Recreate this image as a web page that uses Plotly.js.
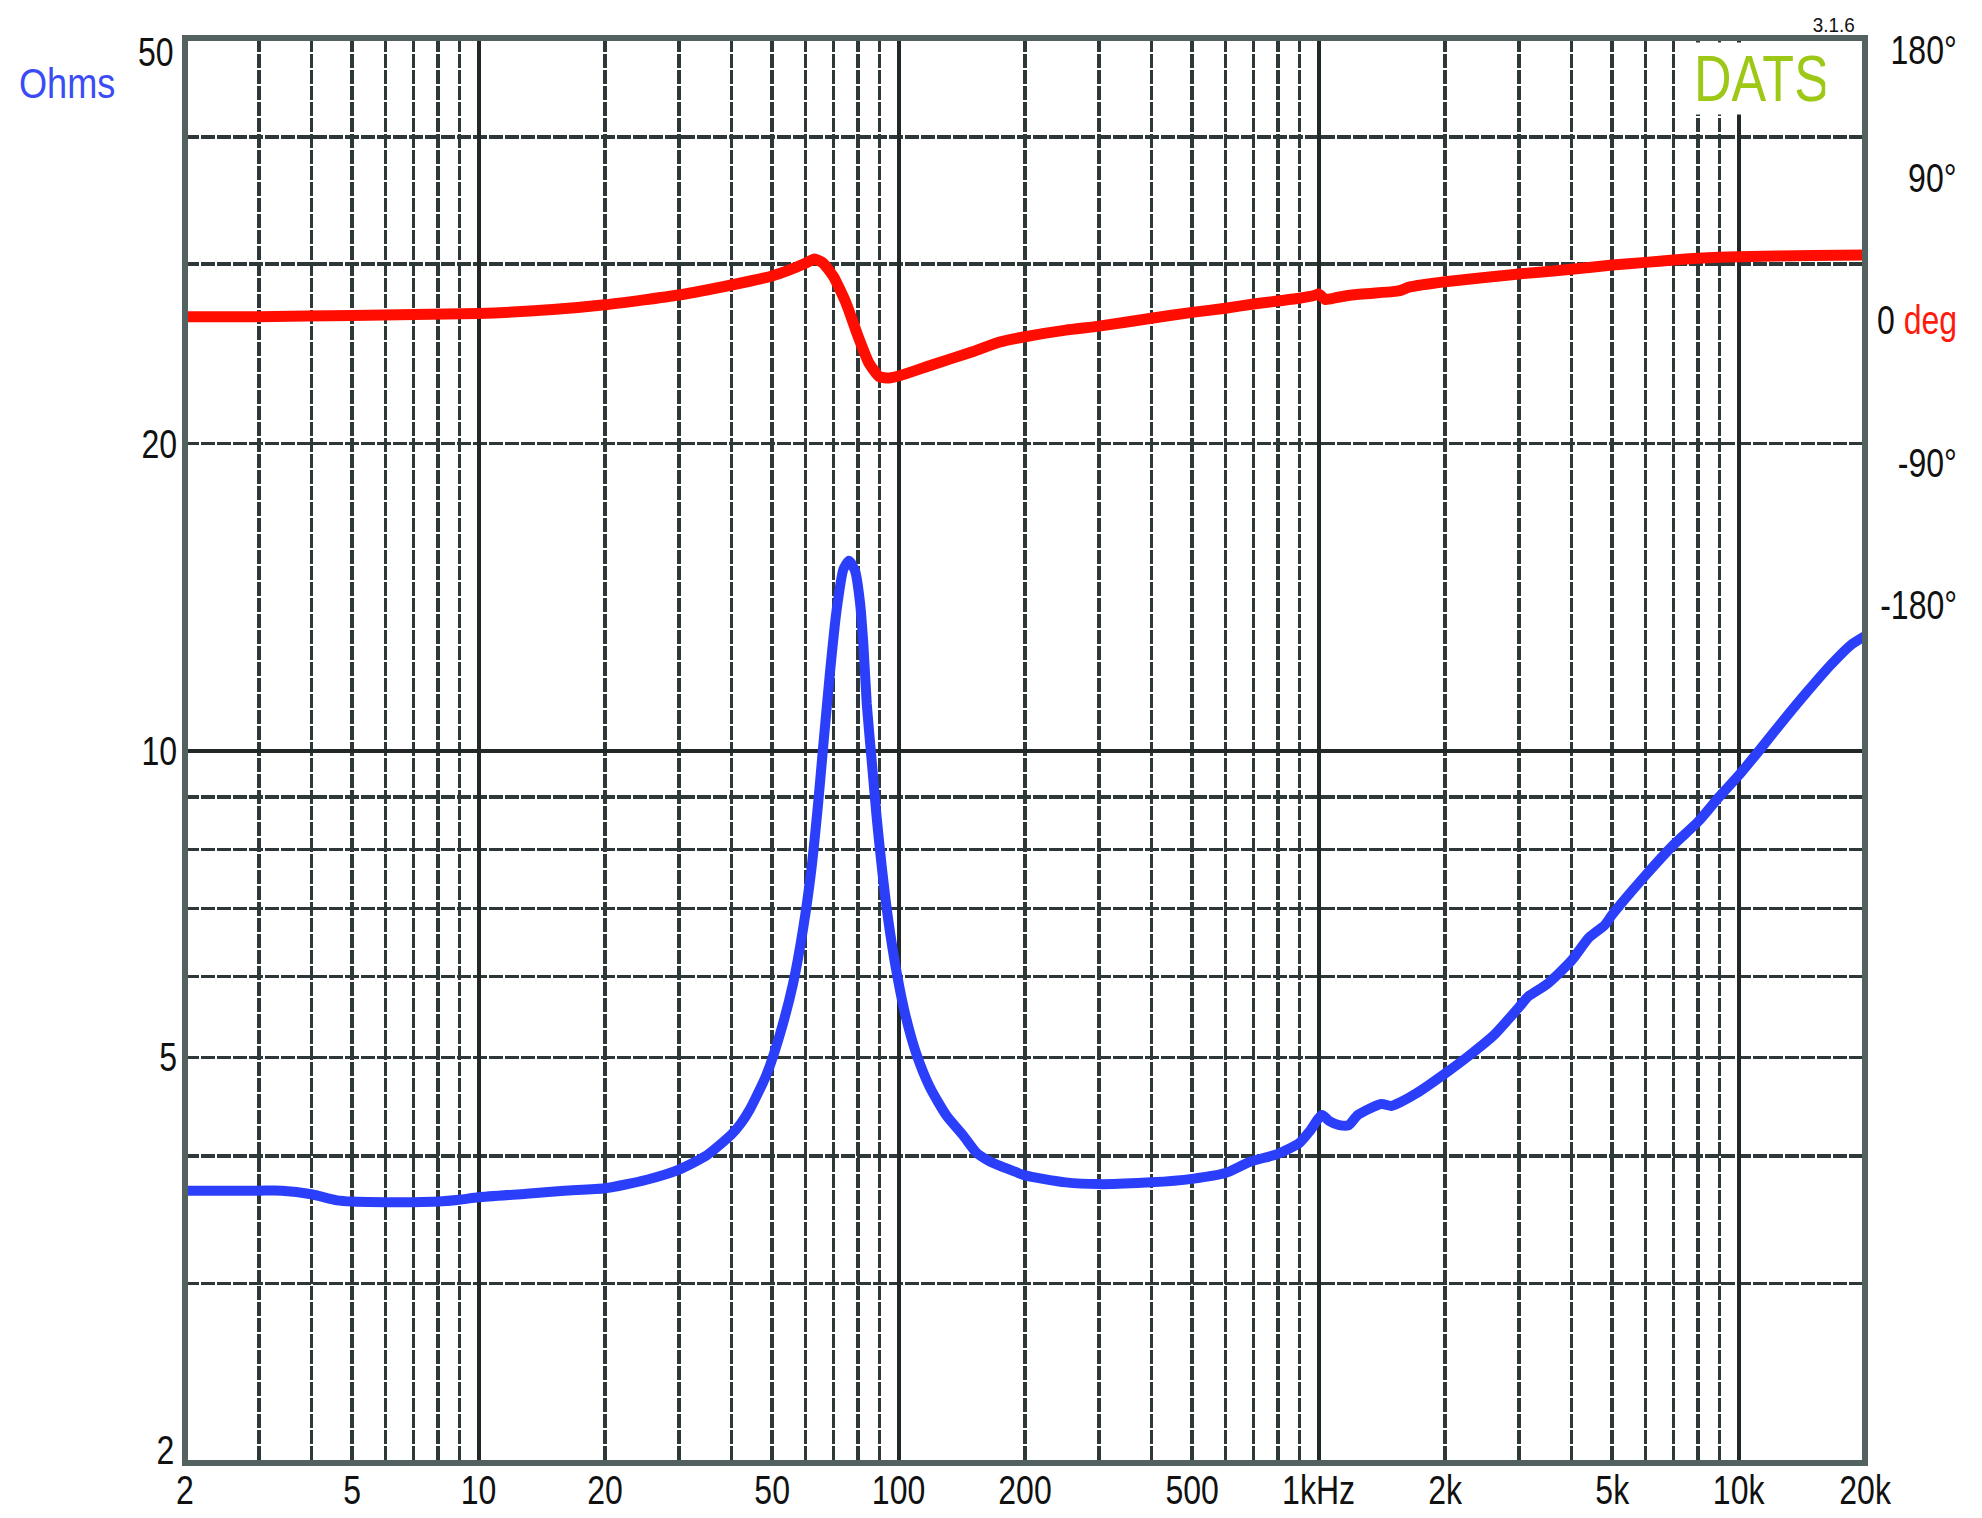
<!DOCTYPE html>
<html><head><meta charset="utf-8">
<script src="https://cdn.plot.ly/plotly-3.0.1.min.js"></script>
<style>html,body{margin:0;padding:0;background:#fff}#chart{width:1982px;height:1518px}</style>
</head><body><div id="chart"></div>
<script>
// Impedance magnitude (Ohms) vs frequency (Hz)
const freqZ = [2,3,3.4,4,4.6,5,6,7,8,9,10,13,16,20,25,30,35,40,42,44.3,48.5,52.2,56.1,59.3,62.1,64.4,66.2,68.7,71.2,73.9,76.2,78.8,80.9,82.4,84.0,86.3,88.7,91.2,94.5,99.0,103.6,110.4,118.8,130.2,142.6,153.4,163.6,175,190,200,250,300,400,500,600,687,800,900,952,1019,1060,1120,1180,1240,1410,1490,1570,1710,2000,2310,2630,3000,3160,3500,4000,4400,4800,5000,6000,7000,8000,9000,10000,11200,12800,14600,16600,18500,20000];
const impedance = [3.70,3.70,3.70,3.67,3.62,3.61,3.605,3.605,3.61,3.625,3.645,3.675,3.70,3.72,3.79,3.88,4.01,4.20,4.30,4.45,4.81,5.27,5.91,6.70,7.69,8.91,10.13,11.96,13.73,15.06,15.35,15.0,14.0,12.76,11.11,9.77,8.59,7.69,6.82,6.05,5.52,5.03,4.67,4.38,4.19,4.03,3.96,3.91,3.86,3.83,3.77,3.755,3.77,3.80,3.85,3.95,4.02,4.12,4.23,4.39,4.33,4.29,4.29,4.39,4.50,4.48,4.52,4.61,4.82,5.04,5.27,5.60,5.74,5.90,6.22,6.55,6.74,6.90,7.54,8.08,8.51,9.01,9.45,10.0,10.71,11.43,12.14,12.69,12.95];

// Phase (degrees) vs frequency (Hz)
const freqP = [2,3,5,10,15,20,30,40,50,55,60,63,66,70,75,80,85,90,95,100,120,150,174,200,250,300,400,500,600,700,800,900,980,1000,1040,1100,1200,1500,1560,1650,2000,3000,4000,5000,6000,7000,8000,10000,15000,20000];
const phase = [4.0,4.0,4.8,6.0,8.5,11.5,17.7,24.0,29.7,33.5,37.7,40.4,38.0,29.3,12.6,-8.1,-25.3,-33.9,-34.7,-33.5,-26.5,-18.1,-12.0,-8.7,-4.5,-2.0,3.0,6.7,9.3,12.0,13.9,15.6,17.5,18.3,14.8,16.0,17.7,19.8,20.5,22.8,26.1,31.0,33.9,36.6,38.3,39.8,40.9,41.9,42.7,42.9];

// Axis labels and grid positions
const xTickVals = [2,5,10,20,50,100,200,500,1000,2000,5000,10000,20000];
const xTickText = ['2','5','10','20','50','100','200','500','1kHz','2k','5k','10k','20k'];
const xGridVals = [3,4,5,6,7,8,9,10,20,30,40,50,60,70,80,90,100,200,300,400,500,600,700,800,900,1000,2000,3000,4000,5000,6000,7000,8000,9000,10000];
const xDecadeVals = [10,100,1000,10000];
const yGridVals = [3,4,5,6,7,8,9,10,20,30,40];
const yTickVals = [5,10,20];
const yTickText = ['5','10','20'];
const yEdgeVals = [50,2];
const yEdgeText = ['50','2'];
const yDecadeVals = [10];
const phaseTickVals = [180,90,0,-90,-180];
const phaseTickText = ['180°','90°','0 <span style="color:#ff1a0d">deg</span>','-90°','-180°'];

const FONT = "'Liberation Sans', Arial, sans-serif";
const GRID = '#2f3838';
const LOG = v => Math.log10(v);

const xAll = Array.from(new Set(xGridVals.concat(xTickVals))).sort((a,b)=>a-b);
const xAllText = xAll.map(v => { const i = xTickVals.indexOf(v); return i >= 0 ? xTickText[i] : ''; });
const yAll = Array.from(new Set(yGridVals.concat(yTickVals))).sort((a,b)=>a-b);
const yAllText = yAll.map(v => { const i = yTickVals.indexOf(v); return i >= 0 ? yTickText[i] : ''; });

const traces = [
  {x: freqZ, y: impedance, xaxis:'x', yaxis:'y', type:'scatter', mode:'lines',
   line:{color:'#2b3ffb', width:10, shape:'spline', smoothing:0.6}, hoverinfo:'skip'},
  {x: freqP, y: phase, xaxis:'x2', yaxis:'y2', type:'scatter', mode:'lines',
   line:{color:'#ff0d00', width:11, shape:'spline', smoothing:0.5}, hoverinfo:'skip'},
  {x: [], y: [], xaxis:'x', yaxis:'y3', type:'scatter', mode:'lines', hoverinfo:'skip'}
];

const xr = [LOG(2), LOG(20000)];
const yr = [LOG(2), LOG(50)];

const annotations = [];
annotations.push({xref:'paper', yref:'paper', x:0, y:1, xanchor:'left', yanchor:'middle', xshift:-168, yshift:-45,
  text:'Ohms', align:'left', showarrow:false, font:{family:FONT, size:42, color:'#3b4cf5'}});
annotations.push({xref:'paper', yref:'paper', x:1, y:1, xanchor:'right', yanchor:'top', xshift:-3, yshift:-4,
  text:'DATS', showarrow:false, bgcolor:'#ffffff', width:164, height:65, align:'left', valign:'middle', borderpad:3,
  font:{family:FONT, size:65, color:'#9dc815'}});
annotations.push({xref:'paper', yref:'paper', x:1, y:1, xanchor:'right', yanchor:'middle', xshift:-8, yshift:14,
  text:'3.1.6', align:'right', showarrow:false, font:{family:FONT, size:21, color:'#111'}});
yEdgeVals.forEach((v,i) => annotations.push({xref:'paper', yref:'y', x:0, y:LOG(v), xanchor:'right', yanchor:'middle',
  xshift:-9, yshift: i === 0 ? -14 : 13, text:yEdgeText[i], align:'right', showarrow:false, font:{family:FONT, size:40, color:'#111'}}));
phaseTickVals.forEach((v,i) => annotations.push({xref:'paper', yref:'y2', x:1, y:v, xanchor:'right', yanchor:'middle',
  xshift:94, yshift: v === 180 ? -12 : 3, text:phaseTickText[i], align:'right', showarrow:false, font:{family:FONT, size:40, color:'#111'}}));

const layout = {
  width:1982, height:1518,
  margin:{l:185, r:117, t:38, b:55, pad:0},
  paper_bgcolor:'#ffffff', plot_bgcolor:'#ffffff', showlegend:false,
  font:{family:FONT, size:40, color:'#111'},
  xaxis:{type:'log', range:xr, tickmode:'array', tickvals:xAll, ticktext:xAllText,
    showgrid:true, gridcolor:GRID, gridwidth:3.5, griddash:'14px,2px', ticks:'', showline:false, zeroline:false,
    ticklabelstandoff:0, tickfont:{family:FONT, size:40, color:'#111'}, fixedrange:true},
  xaxis2:{type:'log', overlaying:'x', anchor:'y', range:xr, tickmode:'array', tickvals:xDecadeVals,
    showticklabels:false, showgrid:true, gridcolor:'#222727', gridwidth:4, ticks:'', showline:false, zeroline:false},
  yaxis:{type:'log', range:yr, tickmode:'array', tickvals:yAll, ticktext:yAllText,
    showgrid:true, gridcolor:GRID, gridwidth:3.5, griddash:'14px,2px', ticks:'', showline:false, zeroline:false,
    ticklabelstandoff:7, tickfont:{family:FONT, size:40, color:'#111'}, fixedrange:true},
  yaxis2:{overlaying:'y', anchor:'x', side:'right', range:[-720,180], showgrid:false, showticklabels:false,
    ticks:'', zeroline:false, showline:false},
  yaxis3:{type:'log', overlaying:'y', anchor:'x', range:yr, tickmode:'array', tickvals:yDecadeVals,
    showticklabels:false, showgrid:true, gridcolor:'#222727', gridwidth:4, ticks:'', showline:false, zeroline:false},
  shapes:[{type:'rect', xref:'paper', yref:'paper', x0:0, x1:1, y0:0, y1:1, layer:'above',
    line:{color:'#536260', width:6}, fillcolor:'rgba(0,0,0,0)'}],
  annotations: annotations
};

// horizontal compression to imitate the narrow typeface of the original
function narrow(gd) {
  gd.querySelectorAll('.xtick text, .ytick text, .annotation-text').forEach(t => {
    const txt = t.textContent;
    const sx = txt === 'Ohms' ? 0.86 : (txt === '3.1.6' ? 0.9 : 0.8);
    const bb = t.getBBox();
    if (!bb.width) return;
    const anchor = t.getAttribute('text-anchor') || 'start';
    const ax = anchor === 'middle' ? bb.x + bb.width / 2 : (anchor === 'end' ? bb.x + bb.width : bb.x);
    const prev = t.getAttribute('transform') || '';
    t.setAttribute('transform', prev + ' translate(' + ax + ',0) scale(' + sx + ',1) translate(' + (-ax) + ',0)');
  });
}

Plotly.newPlot('chart', traces, layout, {displayModeBar:false, staticPlot:true}).then(narrow);
</script></body></html>
